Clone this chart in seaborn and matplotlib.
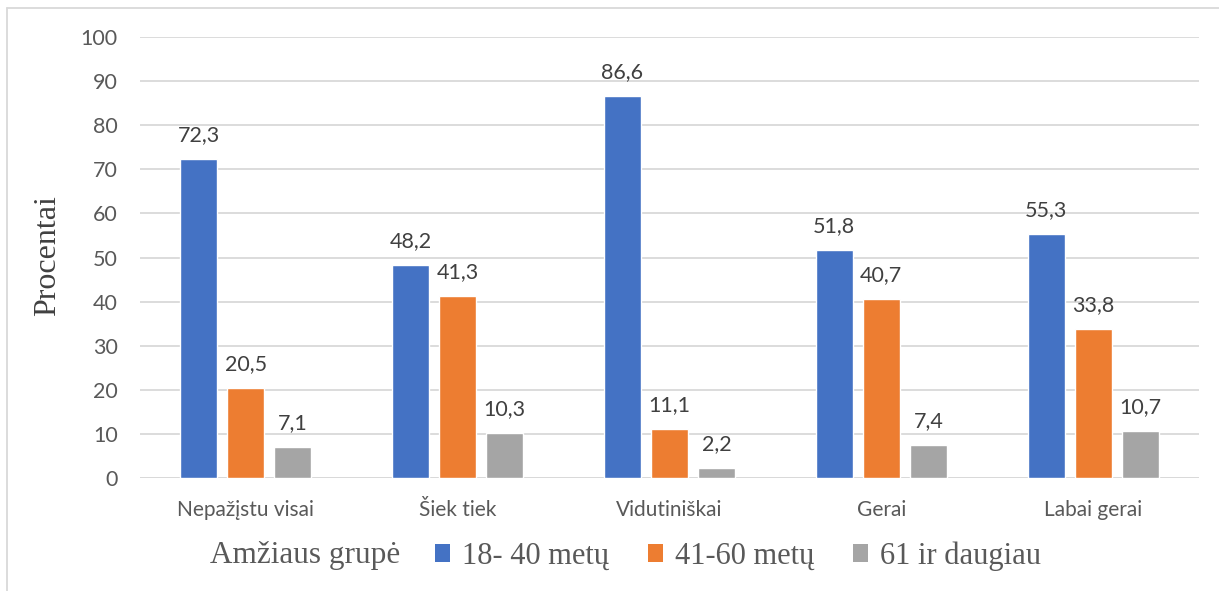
import matplotlib
matplotlib.use("Agg")
import matplotlib.pyplot as plt
from matplotlib.patches import Patch
from matplotlib.lines import Line2D
import pandas as pd
import seaborn as sns

# Survey results: share of respondents (%) by self-rated knowledge and age group
categories = ["Nepažįstu visai", "Šiek tiek", "Vidutiniškai", "Gerai", "Labai gerai"]
groups = ["18- 40 metų", "41-60 metų", "61 ir daugiau"]
age_18_40 = [72.3, 48.2, 86.6, 51.8, 55.3]
age_41_60 = [20.5, 41.3, 11.1, 40.7, 33.8]
age_61_plus = [7.1, 10.3, 2.2, 7.4, 10.7]
y_ticks = [0, 10, 20, 30, 40, 50, 60, 70, 80, 90, 100]

colors = ["#4472C4", "#ED7D31", "#A5A5A5"]

df = pd.DataFrame({
    "kategorija": categories * 3,
    "grupe": [groups[0]] * 5 + [groups[1]] * 5 + [groups[2]] * 5,
    "procentai": age_18_40 + age_41_60 + age_61_plus,
})

sns.set_theme(style="white")
plt.rcParams["font.family"] = ["Lato", "DejaVu Sans"]

fig = plt.figure(figsize=(12.19, 5.91), dpi=100)
ax = fig.add_axes([140 / 1219, 113 / 591, 1059 / 1219, 441 / 591])

sns.barplot(
    data=df, x="kategorija", y="procentai", hue="grupe",
    order=categories, hue_order=groups, palette=colors,
    width=0.666, gap=0.21, saturation=1, legend=False, ax=ax,
)

ax.set_ylim(0, 100)
ax.set_xlim(-0.5, len(categories) - 0.5)
ax.set_yticks(y_ticks)
ax.set_yticklabels([str(v) for v in y_ticks])
ax.yaxis.grid(True, color="#D9D9D9", linewidth=1.3)
ax.set_axisbelow(True)
for side in ["top", "right", "left", "bottom"]:
    ax.spines[side].set_visible(False)
ax.axhline(0, color="#D9D9D9", linewidth=1.3, zorder=0.5)

ax.tick_params(axis="y", length=0, pad=16, labelsize=15.5, labelcolor="#595959")
ax.tick_params(axis="x", length=0, pad=16, labelsize=15, labelcolor="#595959")
ax.set_xlabel("")
ax.set_ylabel("Procentai", family="Liberation Serif", fontsize=23,
              color="#404040", labelpad=0)
ax.yaxis.set_label_coords(-78 / 1059, 0.505)

for container in ax.containers:
    vals = container.datavalues
    ax.bar_label(container, labels=[f"{v:.1f}".replace(".", ",") for v in vals],
                 padding=10, fontsize=15.5, color="#404040")

# Legend along the bottom, with its heading set inline
handles = [Patch(facecolor=c, edgecolor="none") for c in colors]
fig.text(210 / 1219, 1 - 556 / 591, "Amžiaus grupė", family="Liberation Serif",
         fontsize=22.5, color="#595959", ha="left", va="center")
fig.legend(
    handles, groups, loc="center left", bbox_to_anchor=(435 / 1219, 1 - 556 / 591),
    ncol=3, frameon=False,
    prop={"family": "Liberation Serif", "size": 22},
    labelcolor="#595959", handlelength=0.5, handleheight=0.5,
    handletextpad=0.4, columnspacing=1.25, borderaxespad=0, borderpad=0,
)

# Chart-area border
fig.add_artist(Line2D([7 / 1219, 1.0], [1 - 8 / 591, 1 - 8 / 591],
                      transform=fig.transFigure, color="#D9D9D9", linewidth=1.3))
fig.add_artist(Line2D([7 / 1219, 7 / 1219], [0.0, 1 - 8 / 591],
                      transform=fig.transFigure, color="#D9D9D9", linewidth=1.3))

fig.savefig("out.png", dpi=100, facecolor="white")
